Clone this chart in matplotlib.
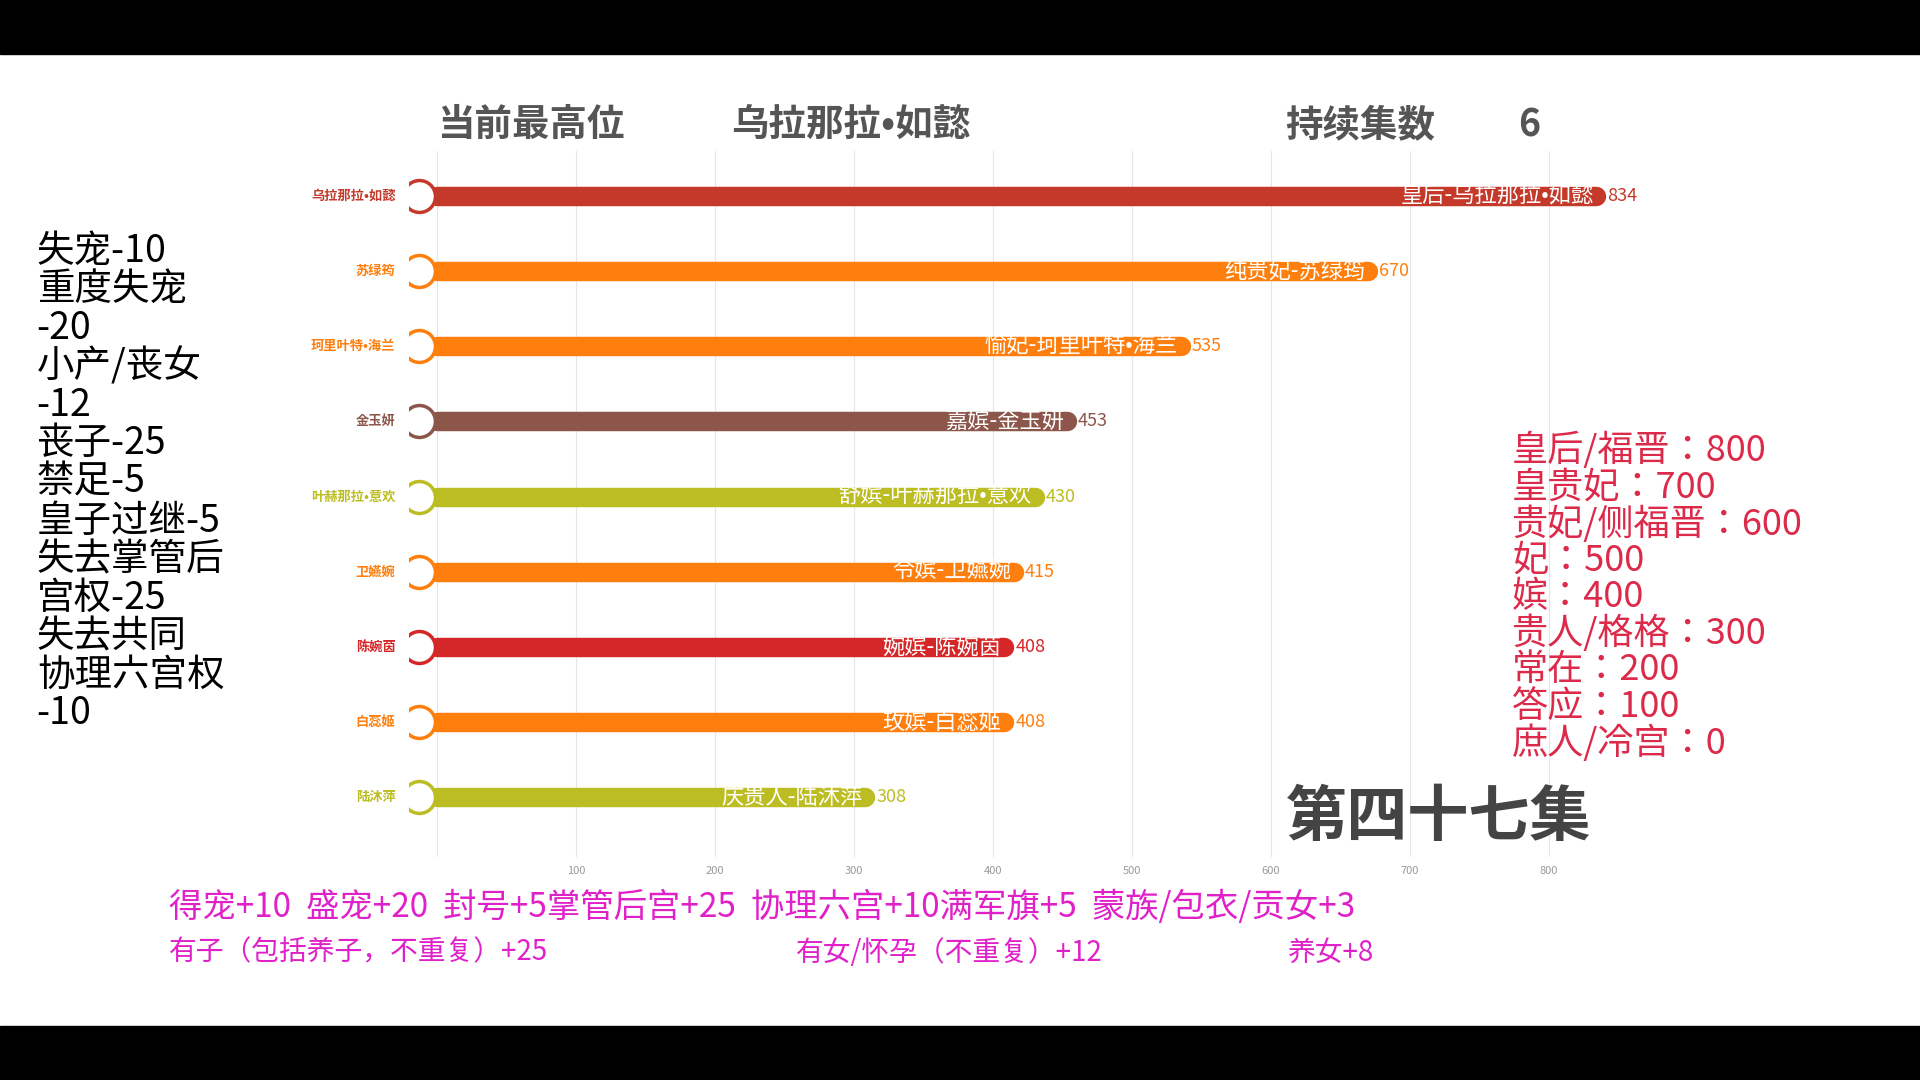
import matplotlib
matplotlib.use("Agg")
import matplotlib.pyplot as plt
from matplotlib import font_manager
from matplotlib.patches import Rectangle

cjk = [f.name for f in font_manager.fontManager.ttflist if "CJK" in f.name]
pref = [n for n in ["Noto Sans CJK SC", "Noto Sans CJK JP", "Noto Sans CJK TC", "Noto Sans CJK KR"] if n in cjk]
fam = (pref[0] if pref else (cjk[0] if cjk else "DejaVu Sans"))
plt.rcParams['font.family'] = [fam, 'DejaVu Sans']

names = ["乌拉那拉•如懿", "苏绿筠", "珂里叶特•海兰", "金玉妍", "叶赫那拉•意欢",
         "卫嬿婉", "陈婉茵", "白蕊姬", "陆沐萍"]
titles = ["皇后-乌拉那拉•如懿", "纯贵妃-苏绿筠", "愉妃-珂里叶特•海兰", "嘉嫔-金玉妍",
          "舒嫔-叶赫那拉•意欢", "令嫔-卫嬿婉", "婉嫔-陈婉茵", "玫嫔-白蕊姬", "庆贵人-陆沐萍"]
values = [834, 670, 535, 453, 430, 415, 408, 408, 308]
colors = ["#c4392a", "#ff7f0e", "#ff7f0e", "#8c564b", "#bcbd22",
          "#ff7f0e", "#d62728", "#ff7f0e", "#bcbd22"]
xticks = [100, 200, 300, 400, 500, 600, 700, 800]

left_notes = ["失宠-10", "重度失宠", "-20", "小产/丧女", "-12", "丧子-25", "禁足-5",
              "皇子过继-5", "失去掌管后", "宫权-25", "失去共同", "协理六宫权", "-10"]
rank_notes = ["皇后/福晋：800", "皇贵妃：700", "贵妃/侧福晋：600", "妃：500", "嫔：400",
              "贵人/格格：300", "常在：200", "答应：100", "庶人/冷宫：0"]
bottom1 = "得宠+10  盛宠+20  封号+5掌管后宫+25  协理六宫+10满军旗+5  蒙族/包衣/贡女+3"
bottom2 = [("有子（包括养子，不重复）+25", 138), ("有女/怀孕（不重复）+12", 650), ("养女+8", 1052)]

W, H = 1568, 882
fx = lambda x: x / W
fy = lambda y: 1 - y / H

fig = plt.figure(figsize=(19.2, 10.8), dpi=100)
fig.patches.append(Rectangle((0, fy(44)), 1, 44 / H, transform=fig.transFigure, color="black", zorder=-1))
fig.patches.append(Rectangle((0, 0), 1, 1 - 838 / H, transform=fig.transFigure, color="black", zorder=-1))

unit = (fx(1265) - fx(357)) / 800.0
ystep = (fy(160) - fy(651)) / 8
left = fx(357) - 20 * unit
bottom = fy(651) - 0.8 * ystep
ax = fig.add_axes([left, bottom, 920 * unit, 9.4 * ystep])
ax.set_xlim(-20, 900)
ax.set_ylim(8.8, -0.6)
for s in ax.spines.values():
    s.set_visible(False)
ax.set_yticks([])
ax.set_xticks(xticks)
ax.tick_params(axis='x', length=0, labelsize=8, labelcolor="#999999", pad=6)
for t in xticks:
    ax.axvline(t, color="#e6e6e6", lw=0.8, zorder=0)
ax.axvline(0, color="#e6e6e6", lw=0.8, zorder=0)

for i, (n, tt, v, c) in enumerate(zip(names, titles, values, colors)):
    ax.plot([0, v], [i, i], color=c, lw=14, solid_capstyle='round', zorder=2)
    ax.plot([-13], [i], marker='o', ms=23, mfc="white", mec=c, mew=2.5, zorder=3)
    ax.text(v - 2, i, tt, color="white", fontsize=16, ha="right", va="center", zorder=4)
    ax.text(v + 8, i, str(v), color=c, fontsize=13, ha="left", va="center")
    ax.text(-30, i, n, color=c, fontsize=9.5, fontweight="bold", ha="right", va="center")

for s, x in [("当前最高位", 357), ("乌拉那拉•如懿", 597), ("持续集数", 1050), ("6", 1240)]:
    fig.text(fx(x), fy(102), s, fontsize=27, fontweight="bold", color="#555555", va="center")

for k, s in enumerate(left_notes):
    fig.text(fx(30), fy(205 + k * 31.5), s, fontsize=27, color="black", va="center")
for k, s in enumerate(rank_notes):
    fig.text(fx(1235), fy(368 + k * 29.9), s, fontsize=26, color="#dc2a4a", va="center")

fig.text(fx(1050), fy(668), "第四十七集", fontsize=44, fontweight="bold", color="#444444", va="center")
fig.text(fx(138), fy(741), bottom1, fontsize=24, color="#e020c8", va="center")
for s, x in bottom2:
    fig.text(fx(x), fy(778), s, fontsize=20, color="#e020c8", va="center")

fig.savefig("out.png", dpi=100, facecolor="white")
